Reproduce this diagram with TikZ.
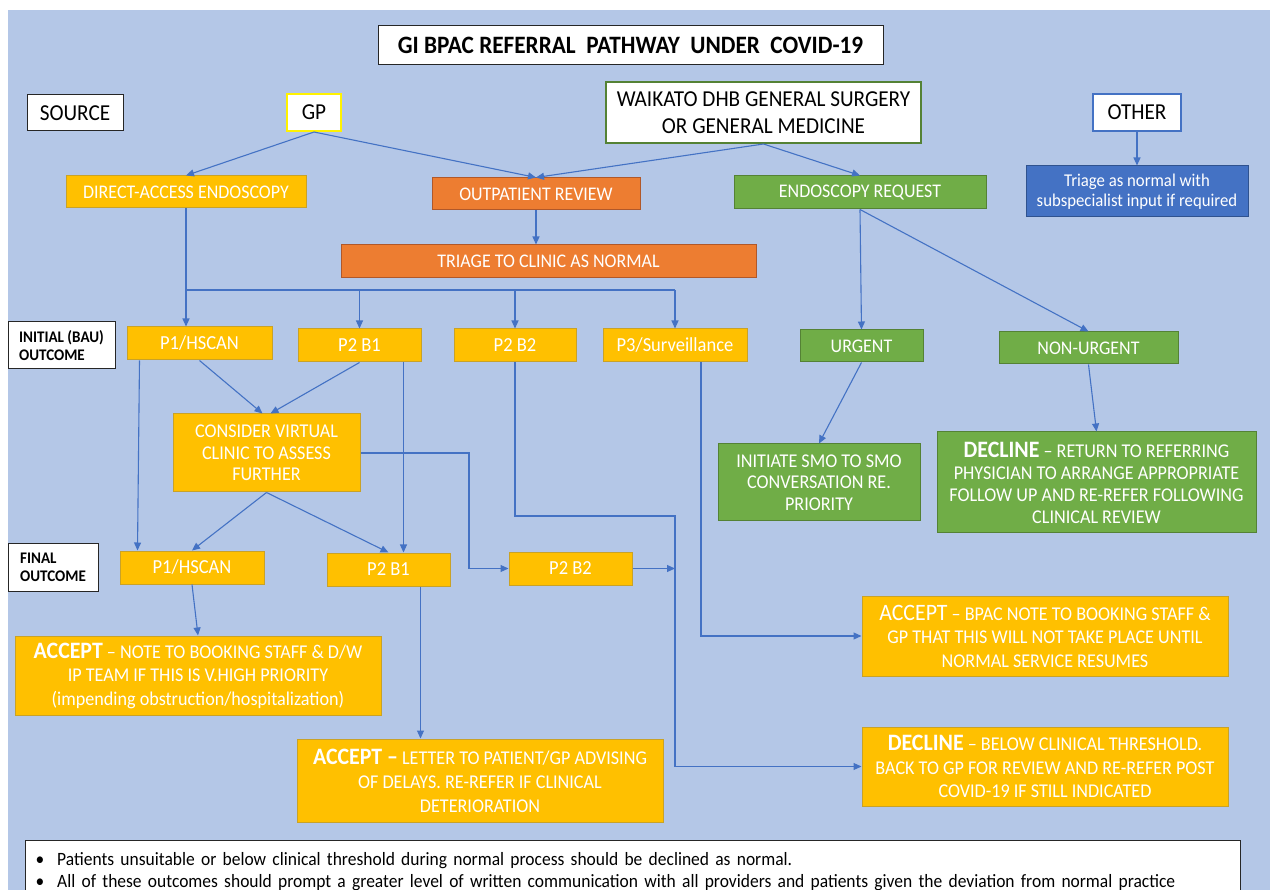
\documentclass[tikz,border=0pt]{standalone}
\usepackage{fontspec}
\setmainfont[FakeStretch=0.93]{Carlito}
\usetikzlibrary{arrows.meta,calc}
\definecolor{bgblue}{HTML}{B4C7E7}
\definecolor{ylw}{HTML}{FFC000}
\definecolor{ylwd}{HTML}{C9A227}
\definecolor{org}{HTML}{ED7D31}
\definecolor{orgd}{HTML}{B0582A}
\definecolor{grn}{HTML}{70AD47}
\definecolor{grnd}{HTML}{548235}
\definecolor{blu}{HTML}{4472C4}
\definecolor{blud}{HTML}{2F528F}
\definecolor{linec}{HTML}{4472C4}
\newcommand{\fsz}[2]{\fontsize{#1}{#2}\selectfont}
\newcommand{\kw}[1]{{\bfseries\fsz{23.5}{24}#1}}
\tikzset{
  box/.style={draw, rectangle, inner sep=0pt, align=center, line width=1pt},
  wbox/.style={box, fill=white, draw=black!85, text=black},
  ybox/.style={box, fill=ylw, draw=ylwd, text=white},
  obox/.style={box, fill=org, draw=orgd, text=white},
  gbox/.style={box, fill=grn, draw=grnd, text=white},
  bbox/.style={box, fill=blu, draw=blud, text=white},
  arr/.style={draw=linec, line width=1.1pt, -{Triangle[length=8pt,width=7pt]}},
  ln/.style={draw=linec, line width=1.1pt},
  body/.style={font=\fsz{19.3}{22}},
  head/.style={font=\fsz{22.8}{27}},
  big/.style={font=\fsz{19.5}{23.5}},
  lbl/.style={wbox, font=\bfseries\fsz{16.2}{18}, align=left},
}
\begin{document}
\begin{tikzpicture}[x=1pt,y=-1pt]
\useasboundingbox (0,0) rectangle (1270,890);
\fill[white] (0,0) rectangle (1270,890);
\fill[bgblue] (8,10) rectangle (1270,890);

% header row
\node[wbox, minimum width=505pt, minimum height=39pt, font=\bfseries\fsz{25}{28}] (title) at (630.5,45.5) {GI BPAC REFERRAL\ \ PATHWAY\ \ UNDER\ \ COVID-19};
\node[wbox, head, minimum width=96pt, minimum height=36pt] (source) at (75,113) {SOURCE};
\node[wbox, head, draw=yellow, line width=2pt, minimum width=54pt, minimum height=37pt] (gp) at (314,112.5) {GP};
\node[wbox, head, draw=grnd, line width=2pt, minimum width=315pt, minimum height=61pt] (wdhb) at (763.5,112.5) {WAIKATO DHB GENERAL SURGERY\\OR GENERAL MEDICINE};
\node[wbox, head, draw=blu, line width=2pt, minimum width=88pt, minimum height=37pt] (other) at (1137,112.5) {OTHER};

% second row
\node[ybox, body, minimum width=240pt, minimum height=32pt] (da) at (186,192) {DIRECT-ACCESS ENDOSCOPY};
\node[obox, body, minimum width=208pt, minimum height=32pt] (op) at (536,194) {OUTPATIENT REVIEW};
\node[gbox, body, minimum width=252pt, minimum height=33pt] (er) at (860,192.5) {ENDOSCOPY REQUEST};
\node[bbox, font=\fsz{18}{20}, minimum width=222pt, minimum height=51pt] (tri) at (1137,191.5) {Triage as normal with\\subspecialist input if required};
\node[obox, body, minimum width=415pt, minimum height=33pt] (tcn) at (548.5,261.5) {TRIAGE TO CLINIC AS NORMAL};

% initial outcome row
\node[lbl, minimum width=107pt, minimum height=47pt] (initlbl) at (61.5,345.5) {INITIAL (BAU)\\OUTCOME};
\node[ybox, font=\fsz{19.9}{22}, minimum width=145pt, minimum height=33pt] (p1) at (199.5,343.5) {P1/HSCAN};
\node[ybox, font=\fsz{19.9}{22}, minimum width=123pt, minimum height=33pt] (p2b1) at (359.5,345.5) {P2 B1};
\node[ybox, font=\fsz{19.9}{22}, minimum width=122pt, minimum height=33pt] (p2b2) at (515,345.5) {P2 B2};
\node[ybox, font=\fsz{19.9}{22}, minimum width=144pt, minimum height=33pt] (p3) at (675,345.5) {P3/Surveillance};
\node[gbox, body, minimum width=123pt, minimum height=32pt] (urg) at (861.5,346) {URGENT};
\node[gbox, body, minimum width=179pt, minimum height=32pt] (nurg) at (1088.5,348) {NON-URGENT};

% middle
\node[ybox, font=\fsz{19.5}{21.5}, minimum width=187pt, minimum height=78pt] (cvc) at (266.5,453) {CONSIDER VIRTUAL\\CLINIC TO ASSESS\\FURTHER};
\node[gbox, font=\fsz{19.5}{21.5}, minimum width=202pt, minimum height=77pt] (smo) at (819,482.5) {INITIATE SMO TO SMO\\CONVERSATION RE.\\PRIORITY};
\node[gbox, font=\fsz{19.5}{22}, minimum width=319pt, minimum height=101pt] (dec1) at (1096.5,482.5) {\kw{DECLINE} -- RETURN TO REFERRING\\PHYSICIAN TO ARRANGE APPROPRIATE\\FOLLOW UP AND RE-REFER FOLLOWING\\CLINICAL REVIEW};

% final outcome row
\node[lbl, minimum width=90pt, minimum height=47pt] (finlbl) at (53,567.5) {FINAL\\OUTCOME};
\node[ybox, font=\fsz{19.9}{22}, minimum width=144pt, minimum height=33pt] (f1) at (192,567.5) {P1/HSCAN};
\node[ybox, font=\fsz{19.9}{22}, minimum width=123pt, minimum height=33pt] (f2) at (388.5,569.5) {P2 B1};
\node[ybox, font=\fsz{19.9}{22}, minimum width=123pt, minimum height=33pt] (f3) at (570.5,568.5) {P2 B2};

% outcome boxes
\node[ybox, big, minimum width=366pt, minimum height=79pt] (acc1) at (198,675.5) {\kw{ACCEPT} -- NOTE TO BOOKING STAFF \& D/W\\IP TEAM IF THIS IS V.HIGH PRIORITY\\(impending obstruction/hospitalization)};
\node[ybox, font=\fsz{19.5}{24}, minimum width=366pt, minimum height=83pt] (acc2) at (480,780.5) {\kw{ACCEPT --} LETTER TO PATIENT/GP ADVISING\\OF DELAYS. RE-REFER IF CLINICAL\\DETERIORATION};
\node[ybox, big, minimum width=366pt, minimum height=80pt] (acc3) at (1045,636) {{\fsz{23.5}{24}ACCEPT} -- BPAC NOTE TO BOOKING STAFF \&\\GP THAT THIS WILL NOT TAKE PLACE UNTIL\\NORMAL SERVICE RESUMES};
\node[ybox, big, minimum width=366pt, minimum height=79pt] (dec2) at (1045,766.5) {\kw{DECLINE} -- BELOW CLINICAL THRESHOLD.\\BACK TO GP FOR REVIEW AND RE-REFER POST\\COVID-19 IF STILL INDICATED};

% note
\node[wbox, anchor=north west, text width=1195pt, inner xsep=10pt, inner ysep=6pt, align=left, font=\fsz{18.8}{21.5}, minimum height=62pt] (note) at (25,840) {\textbullet\hspace{13pt}Patients unsuitable or below clinical threshold during normal process should be declined as normal.\\ \textbullet\hspace{13pt}All of these outcomes should prompt a greater level of written communication with all providers and patients given the deviation from normal practice};

% coordinates
\coordinate (busL) at (186,290);
\coordinate (busR) at (675,290);
\coordinate (j1) at (675,516);
\coordinate (p1d) at ($(p1.south west)+(13,0)$);
\coordinate (f1u) at ($(f1.north west)+(18,0)$);
\coordinate (p2d) at ($(p2b1.south east)+(-18,0)$);
\coordinate (f2d) at ($(f2.south east)+(-30,0)$);
\coordinate (p3d) at ($(p3.south)+(26,0)$);
\coordinate (cvcR) at (469,453);

% connectors top
\draw[arr] (gp.south) -- (da.north);
\draw[arr] (gp.south) -- (op.north);
\draw[arr] (wdhb.south) -- (op.north);
\draw[arr] (wdhb.south) -- (er.north);
\draw[arr] (other.south) -- (tri.north);
\draw[arr] (op.south) -- (op.south |- tcn.north);

% bus
\draw[arr] (da.south) -- (da.south |- p1.north);
\draw[ln] (busL) -- (busR);
\draw[arr] (busL -| p2b1.north) -- (p2b1.north);
\draw[arr] (busL -| p2b2.north) -- (p2b2.north);
\draw[arr] (busR) -- (p3.north);

% endoscopy request
\draw[arr] (er.south) -- (urg.north);
\draw[arr] (er.south) -- (nurg.north);
\draw[arr] (urg.south) -- (smo.north);
\draw[arr] (nurg.south) -- (dec1.north);

% left part
\draw[arr] (p1.south) -- ($(cvc.north)+(-4,0)$);
\draw[arr] (p2b1.south) -- ($(cvc.north)+(4,0)$);
\draw[arr] (p1d) -- (f1u);
\draw[arr] (p2d) -- (p2d |- f2.north);
\draw[arr] (cvc.south) -- (f1.north);
\draw[arr] (cvc.south) -- (f2.north);
\draw[arr] (cvc.east) -- (cvcR) |- (f3.west);
\draw[arr] (f1.south) -- (acc1.north);
\draw[arr] (f2d) -- (f2d |- acc2.north);

% right routes
\draw[arr] (p2b2.south) |- (j1) |- (dec2.west);
\draw[arr] (f3.east) -- (f3.east -| j1);
\draw[arr] (p3d) |- (acc3.west);
\end{tikzpicture}
\end{document}
